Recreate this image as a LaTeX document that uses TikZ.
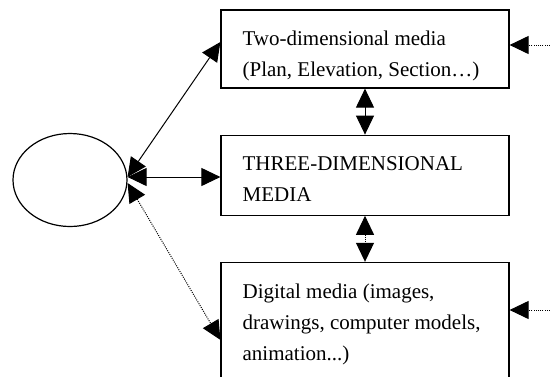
\documentclass[tikz,border=0pt]{standalone}
\usepackage{fontspec}
\setmainfont{Liberation Serif}
\usetikzlibrary{shapes.geometric,arrows.meta,positioning}
\tikzset{media/.style={draw, line width=1.2pt, minimum width=288pt, inner sep=0pt},
mediatext/.style={anchor=north west, align=left, inner sep=0pt, font=\fontsize{21}{31}\selectfont},
link/.style={line width=1pt, >={Triangle[length=19pt,width=18pt]}},
dots/.style={dash pattern=on 1pt off 1.2pt}
}

\begin{document}
\begin{tikzpicture}[x=1pt, y=-1pt, node distance=46pt]
        \useasboundingbox (0,0) rectangle (550,376);
        \node[draw, ellipse, line width=1.2pt, minimum width=114pt, minimum height=93pt] (viewer) at (70,180) {};
        \node[media, minimum height=78pt]  (twod)    at (365,49)       {};
        \node[media, minimum height=80pt]  (threed)  [below=of twod]   {};
        \node[media, minimum height=135pt] (digital) [below=of threed] {};

        \node[mediatext] (twodtext)    at ([shift={(22pt,-21.5pt)}]twod.north west)    {Two-dimensional media\\(Plan, Elevation, Section\ldots)};
        \node[mediatext] (threedtext)  at ([shift={(22pt,-22pt)}]threed.north west)    {THREE-DIMENSIONAL\\MEDIA};
        \node[mediatext] (digitaltext) at ([shift={(22pt,-22pt)}]digital.north west)   {Digital media (images,\\drawings, computer models,\\animation...)};

        \coordinate (outtwod)     at (550,45);
        \coordinate (outdigital)  at (550,310);

        \draw[link, <->] ([yshift=3pt]viewer.east) -- ([yshift=7pt]twod.west);
        \draw[link, <->] ([yshift=3pt]viewer.east) -- ([yshift=3pt]viewer.east -| threed.west);
        \draw[link, <->, dots] ([yshift=-3pt]viewer.east) -- ([yshift=-10pt]digital.west);
        \draw[link, <->] (twod.south) -- (threed.north);
        \draw[link, <->, dots] (threed.south) -- (digital.north);
        \draw[link, ->, dots] (outtwod) -- (outtwod -| twod.east);
        \draw[link, ->, dots] (outdigital) -- (outdigital -| digital.east);
\end{tikzpicture}
\end{document}
